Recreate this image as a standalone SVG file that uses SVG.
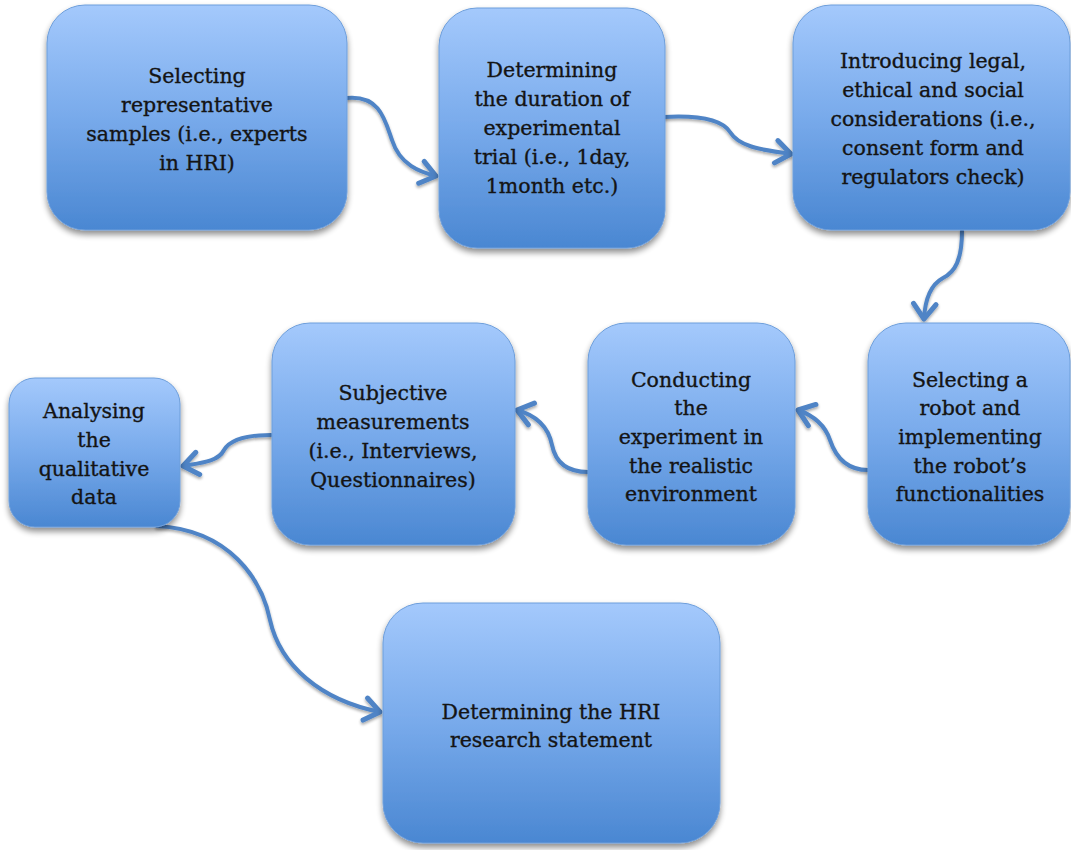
<svg xmlns="http://www.w3.org/2000/svg" width="1071" height="850" viewBox="0 0 1071 850">
  <defs>
    <linearGradient id="boxFill" x1="0" y1="0" x2="0" y2="1">
      <stop offset="0" stop-color="#a4c9fc"/>
      <stop offset="0.5" stop-color="#78aaeb"/>
      <stop offset="1" stop-color="#4a87d2"/>
    </linearGradient>
    <filter id="shadow" x="-10%" y="-10%" width="120%" height="125%">
      <feGaussianBlur in="SourceAlpha" stdDeviation="3"/>
      <feOffset dx="0" dy="4" result="b"/>
      <feComponentTransfer><feFuncA type="linear" slope="0.45"/></feComponentTransfer>
      <feMerge><feMergeNode/><feMergeNode in="SourceGraphic"/></feMerge>
    </filter>
    <filter id="lineShadow" x="-20%" y="-20%" width="140%" height="140%">
      <feGaussianBlur in="SourceAlpha" stdDeviation="1.5"/>
      <feOffset dx="0" dy="2" result="b"/>
      <feComponentTransfer><feFuncA type="linear" slope="0.35"/></feComponentTransfer>
      <feMerge><feMergeNode/><feMergeNode in="SourceGraphic"/></feMerge>
    </filter>
    <marker id="arrow" markerUnits="userSpaceOnUse" markerWidth="30" markerHeight="30" refX="0" refY="0" viewBox="-16 -12 20 24" orient="auto" overflow="visible">
      <path d="M-12,-9 L0,0 L-12,9" fill="none" stroke="#4f84c6" stroke-width="4" stroke-linecap="round" stroke-linejoin="round"/>
    </marker>
  </defs>
  <style>
    .box { fill: url(#boxFill); stroke: #6d9edb; stroke-width: 1; filter: url(#shadow); }
    .label { font-family: "DejaVu Serif", "Liberation Serif", serif; font-size: 20.5px; fill: #141414; stroke: #141414; stroke-width: 0.35; text-anchor: middle; }
    .conn { fill: none; stroke: #4f84c6; stroke-width: 4; stroke-linecap: round; marker-end: url(#arrow); }
  </style>

  <g id="connectors" filter="url(#lineShadow)">
    <path class="conn" d="M347,98 C380,95 385,120 392,140 C400,165 420,172 436,176"/>
    <path class="conn" d="M664,117 C700,115 722,120 730,132 C740,148 765,150 791,154"/>
    <path class="conn" d="M962,231 C962,260 955,272 943,278 C930,285 925,300 924,319"/>
    <path class="conn" d="M868,470 C845,470 835,455 830,440 C825,425 812,415 798,410"/>
    <path class="conn" d="M588,472 C565,472 555,460 552,445 C548,425 535,415 517,410"/>
    <path class="conn" d="M271,435 C245,435 230,440 224,450 C218,462 200,463 183,466"/>
    <path class="conn" d="M157,526 C230,530 262,580 270,620 C280,665 320,700 380,712"/>
  </g>

  <g id="node-samples">
    <rect class="box" x="47" y="5" width="300" height="225" rx="38"/>
    <text class="label"><tspan x="197" y="83">Selecting</tspan><tspan x="197" y="112">representative</tspan><tspan x="197" y="141">samples (i.e., experts</tspan><tspan x="197" y="170">in HRI)</tspan></text>
  </g>

  <g id="node-duration">
    <rect class="box" x="439" y="8" width="226" height="240" rx="38"/>
    <text class="label"><tspan x="552" y="77">Determining</tspan><tspan x="552" y="106">the duration of</tspan><tspan x="552" y="135">experimental</tspan><tspan x="552" y="164">trial (i.e., 1day,</tspan><tspan x="552" y="193">1month etc.)</tspan></text>
  </g>

  <g id="node-legal">
    <rect class="box" x="793" y="5" width="277" height="225" rx="38"/>
    <text class="label"><tspan x="933" y="68">Introducing legal,</tspan><tspan x="933" y="97">ethical and social</tspan><tspan x="933" y="126">considerations (i.e.,</tspan><tspan x="933" y="155">consent form and</tspan><tspan x="933" y="184">regulators check)</tspan></text>
  </g>

  <g id="node-robot">
    <rect class="box" x="868" y="323" width="202" height="222" rx="38"/>
    <text class="label"><tspan x="970" y="387">Selecting a</tspan><tspan x="970" y="415">robot and</tspan><tspan x="970" y="444">implementing</tspan><tspan x="970" y="473">the robot’s</tspan><tspan x="970" y="501">functionalities</tspan></text>
  </g>

  <g id="node-conducting">
    <rect class="box" x="588" y="323" width="207" height="222" rx="38"/>
    <text class="label"><tspan x="691" y="387">Conducting</tspan><tspan x="691" y="415">the</tspan><tspan x="691" y="444">experiment in</tspan><tspan x="691" y="473">the realistic</tspan><tspan x="691" y="501">environment</tspan></text>
  </g>

  <g id="node-subjective">
    <rect class="box" x="272" y="323" width="243" height="222" rx="38"/>
    <text class="label"><tspan x="393" y="400">Subjective</tspan><tspan x="393" y="429">measurements</tspan><tspan x="393" y="458">(i.e., Interviews,</tspan><tspan x="393" y="487">Questionnaires)</tspan></text>
  </g>

  <g id="node-analysing">
    <rect class="box" x="9" y="378" width="171" height="149" rx="26"/>
    <text class="label"><tspan x="94" y="418">Analysing</tspan><tspan x="94" y="447">the</tspan><tspan x="94" y="476">qualitative</tspan><tspan x="94" y="504">data</tspan></text>
  </g>

  <g id="node-statement">
    <rect class="box" x="383" y="603" width="337" height="240" rx="40"/>
    <text class="label"><tspan x="551" y="719">Determining the HRI</tspan><tspan x="551" y="747">research statement</tspan></text>
  </g>
</svg>
